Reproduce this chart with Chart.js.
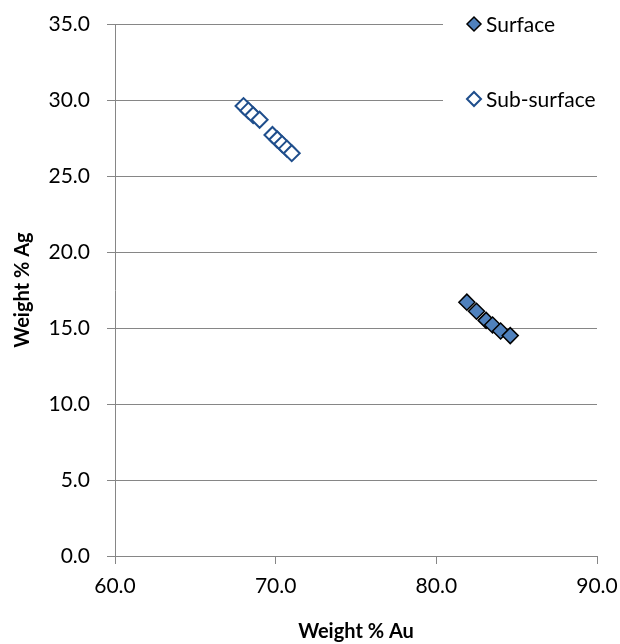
<!DOCTYPE html>
<html>
<head>
<meta charset="utf-8">
<script src="https://cdn.jsdelivr.net/npm/chart.js@4"></script>
<style>
  body { margin: 0; background: #fff; }
  canvas { display: block; }
</style>
</head>
<body>
<canvas id="auAgChart" width="620" height="644"></canvas>
<script>
// Values
const surfaceAu = [81.9, 82.5, 83.1, 83.5, 84.0, 84.6];
const surfaceAg = [16.7, 16.1, 15.5, 15.2, 14.8, 14.5];
const subSurfaceAu = [68.0, 68.3, 68.6, 69.0, 69.8, 70.1, 70.4, 70.7, 71.0];
const subSurfaceAg = [29.6, 29.3, 29.0, 28.7, 27.7, 27.4, 27.1, 26.8, 26.5];
const seriesNames = ["Surface", "Sub-surface"];

const fontFamily = "Lato, 'Liberation Sans', sans-serif";
const axisGray = "#868686";
const markerRadius = 8;

function toPoints(xs, ys) {
    return xs.map(function (x, i) { return { x: x, y: ys[i] }; });
}

// Legend in the top right, drawn over the grid like the original
const legendPlugin = {
    id: "cornerLegend",
    afterDraw: function (chart) {
        const ctx = chart.ctx;
        ctx.save();
        ctx.fillStyle = "#fff";
        ctx.fillRect(443, 8, 177, 110);
        const rows = [
            { y: 24, fill: "#4F81BD", stroke: "#000", width: 1.5 },
            { y: 99, fill: "#fff", stroke: "#1F4E8C", width: 2 }
        ];
        rows.forEach(function (r, i) {
            const s = 7;
            ctx.fillStyle = r.fill;
            ctx.strokeStyle = r.stroke;
            ctx.lineWidth = r.width;
            ctx.beginPath();
            ctx.moveTo(474 - s, r.y);
            ctx.lineTo(474, r.y - s);
            ctx.lineTo(474 + s, r.y);
            ctx.lineTo(474, r.y + s);
            ctx.closePath();
            ctx.fill();
            ctx.stroke();
            ctx.fillStyle = "#000";
            ctx.font = "21px " + fontFamily;
            ctx.textBaseline = "middle";
            ctx.textAlign = "left";
            ctx.fillText(seriesNames[i], 486, r.y + 1);
        });
        ctx.restore();
    }
};

const ctx = document.getElementById("auAgChart").getContext("2d");

new Chart(ctx, {
    type: "scatter",
    data: {
        datasets: [
            {
                label: seriesNames[0],
                data: toPoints(surfaceAu, surfaceAg),
                pointStyle: "rectRot",
                pointRadius: markerRadius,
                pointHoverRadius: markerRadius,
                backgroundColor: "#4F81BD",
                borderColor: "#000",
                borderWidth: 1.5
            },
            {
                label: seriesNames[1],
                data: toPoints(subSurfaceAu, subSurfaceAg),
                pointStyle: "rectRot",
                pointRadius: markerRadius,
                pointHoverRadius: markerRadius,
                backgroundColor: "#fff",
                borderColor: "#1F4E8C",
                borderWidth: 2
            }
        ]
    },
    options: {
        responsive: false,
        animation: false,
        layout: { padding: { top: 24, right: 23, left: 0, bottom: 0 } },
        plugins: {
            legend: { display: false },
            tooltip: { enabled: false }
        },
        scales: {
            x: {
                min: 60,
                max: 90,
                afterFit: function (scale) {
                    scale.height = 88;
                    scale.paddingLeft = 0;
                    scale.paddingRight = 0;
                },
                ticks: {
                    stepSize: 10,
                    padding: 10,
                    color: "#000",
                    font: { family: fontFamily, size: 21 },
                    callback: function (v) { return v.toFixed(1); }
                },
                grid: {
                    drawOnChartArea: false,
                    drawTicks: true,
                    tickLength: 8,
                    color: axisGray
                },
                border: { display: true, color: axisGray, width: 1 },
                title: {
                    display: true,
                    text: "Weight % Au",
                    color: "#000",
                    font: { family: fontFamily, size: 20, weight: "bold" },
                    padding: { top: 14, bottom: 0 }
                }
            },
            y: {
                min: 0,
                max: 35,
                afterFit: function (scale) {
                    scale.width = 115;
                    scale.paddingTop = 0;
                    scale.paddingBottom = 0;
                },
                ticks: {
                    stepSize: 5,
                    padding: 17,
                    color: "#000",
                    font: { family: fontFamily, size: 21 },
                    callback: function (v) { return v.toFixed(1); }
                },
                grid: {
                    drawOnChartArea: true,
                    drawTicks: true,
                    tickLength: 8,
                    color: axisGray
                },
                border: { display: true, color: axisGray, width: 1 },
                title: {
                    display: true,
                    text: "Weight % Ag",
                    color: "#000",
                    font: { family: fontFamily, size: 20, weight: "bold" },
                    padding: { top: 11, bottom: 0 }
                }
            }
        }
    },
    plugins: [legendPlugin]
});
</script>
</body>
</html>
